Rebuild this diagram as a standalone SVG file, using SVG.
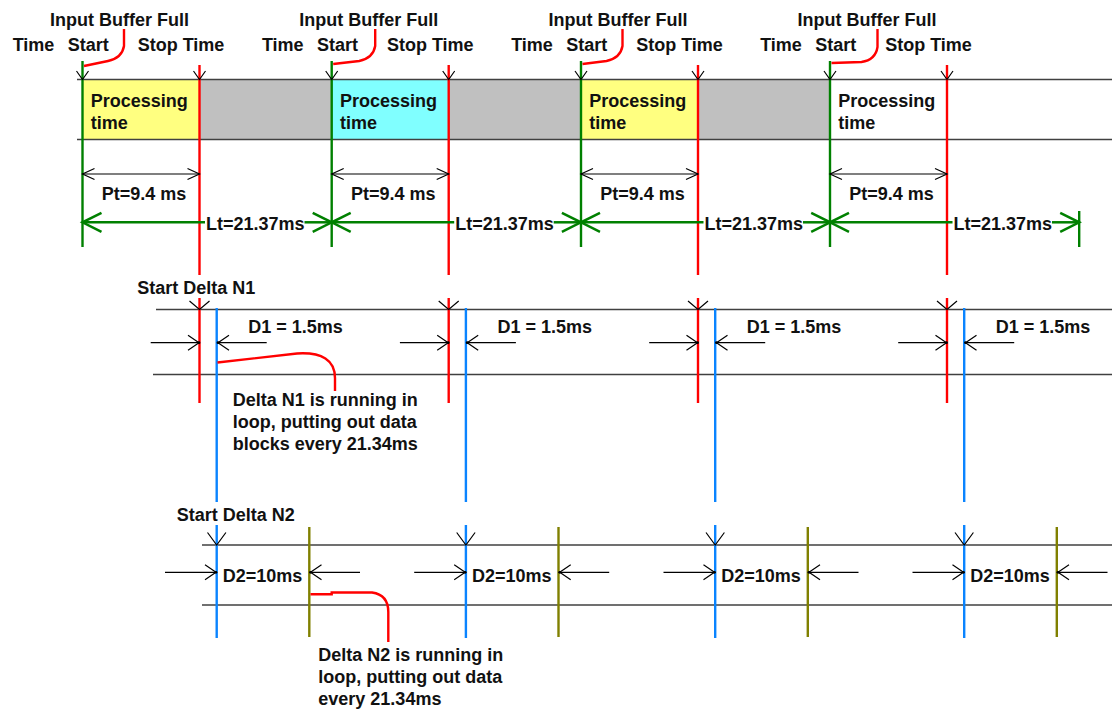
<svg xmlns="http://www.w3.org/2000/svg" width="1112" height="710" viewBox="0 0 1112 710">
<style>
text{font-family:"Liberation Sans",Arial,sans-serif;font-size:18px;font-weight:bold;fill:#111}
.band{stroke:#404040;stroke-width:1.3;fill:none}
.g{stroke:#008000;stroke-width:2.4;fill:none}
.r{stroke:#ff0000;stroke-width:2.4;fill:none}
.b{stroke:#0a84ff;stroke-width:2.4;fill:none}
.o{stroke:#808000;stroke-width:2.4;fill:none}
.k{stroke:#000;stroke-width:1.2;fill:none}
.lt{stroke:#008000;stroke-width:2.5;fill:none}
.pt{stroke:#000;stroke-width:1.2;fill:none;marker-start:url(#aPt);marker-end:url(#aPt)}
.dm{stroke:#000;stroke-width:1.2;fill:none;marker-end:url(#aD)}
</style>
<defs>
<marker id="aPt" viewBox="-16 -10 20 20" refX="0" refY="0" markerWidth="20" markerHeight="20" markerUnits="userSpaceOnUse" orient="auto-start-reverse" overflow="visible"><path d="M-12,-5.5 L0,0 L-12,5.5" fill="none" stroke="#000" stroke-width="1.2"/></marker>
<marker id="aLt" viewBox="-22 -12 26 24" refX="0" refY="0" markerWidth="26" markerHeight="24" markerUnits="userSpaceOnUse" orient="auto-start-reverse" overflow="visible"><path d="M-19,-9.5 L0,0 L-19,9.5" fill="none" stroke="#008000" stroke-width="2.5"/></marker>
<marker id="aD" viewBox="-16 -10 20 20" refX="0" refY="0" markerWidth="20" markerHeight="20" markerUnits="userSpaceOnUse" orient="auto" overflow="visible"><path d="M-11,-7.5 L0,0 L-11,7.5" fill="none" stroke="#000" stroke-width="1.2"/><circle cx="0" cy="0" r="1.4" fill="#000"/></marker>
</defs>

<g id="band-fills">
<rect x="82.5" y="80" width="117" height="59" fill="#ffff80"/>
<rect x="199.5" y="80" width="132.2" height="59" fill="#c0c0c0"/>
<rect x="331.7" y="80" width="117" height="59" fill="#80ffff"/>
<rect x="448.7" y="80" width="132.3" height="59" fill="#c0c0c0"/>
<rect x="581" y="80" width="117" height="59" fill="#ffff80"/>
<rect x="698" y="80" width="132" height="59" fill="#c0c0c0"/>
</g>
<g id="rails">
<line class="band" x1="77" y1="79.5" x2="1112" y2="79.5"/>
<line class="band" x1="77" y1="139.5" x2="1112" y2="139.5"/>
<line class="band" x1="156" y1="309.5" x2="1112" y2="309.5"/>
<line class="band" x1="153" y1="374.5" x2="1112" y2="374.5"/>
<line class="band" x1="202" y1="545" x2="1112" y2="545"/>
<line class="band" x1="202" y1="605" x2="1112" y2="605"/>
</g>

<g id="labels">
<text x="137.3" y="294">Start Delta N1</text>
<text x="176.7" y="520.7">Start Delta N2</text>
</g>

<g id="period-1">
<text x="50" y="26">Input Buffer Full</text>
<text x="12.7" y="50.5">Time</text>
<text x="67.7" y="50.5">Start</text>
<text x="137.7" y="50.5">Stop Time</text>
<text x="90.7" y="107">Processing</text>
<text x="90.7" y="129">time</text>
<text x="101.7" y="200">Pt=9.4 ms</text>
<text x="206" y="230">Lt=21.37ms</text>
<text x="248.3" y="332.7">D1 = 1.5ms</text>
<text x="222.7" y="582">D2=10ms</text>
</g>
<g id="period-2" transform="translate(249.2,0)">
<text x="50" y="26">Input Buffer Full</text>
<text x="12.7" y="50.5">Time</text>
<text x="67.7" y="50.5">Start</text>
<text x="137.7" y="50.5">Stop Time</text>
<text x="90.7" y="107">Processing</text>
<text x="90.7" y="129">time</text>
<text x="101.7" y="200">Pt=9.4 ms</text>
<text x="206" y="230">Lt=21.37ms</text>
<text x="248.3" y="332.7">D1 = 1.5ms</text>
<text x="222.7" y="582">D2=10ms</text>
</g>
<g id="period-3" transform="translate(498.5,0)">
<text x="50" y="26">Input Buffer Full</text>
<text x="12.7" y="50.5">Time</text>
<text x="67.7" y="50.5">Start</text>
<text x="137.7" y="50.5">Stop Time</text>
<text x="90.7" y="107">Processing</text>
<text x="90.7" y="129">time</text>
<text x="101.7" y="200">Pt=9.4 ms</text>
<text x="206" y="230">Lt=21.37ms</text>
<text x="248.3" y="332.7">D1 = 1.5ms</text>
<text x="222.7" y="582">D2=10ms</text>
</g>
<g id="period-4" transform="translate(747.5,0)">
<text x="50" y="26">Input Buffer Full</text>
<text x="12.7" y="50.5">Time</text>
<text x="67.7" y="50.5">Start</text>
<text x="137.7" y="50.5">Stop Time</text>
<text x="90.7" y="107">Processing</text>
<text x="90.7" y="129">time</text>
<text x="101.7" y="200">Pt=9.4 ms</text>
<text x="206" y="230">Lt=21.37ms</text>
<text x="248.3" y="332.7">D1 = 1.5ms</text>
<text x="222.7" y="582">D2=10ms</text>
</g>

<g id="notes">
<text x="232.7" y="406">Delta N1 is running in</text>
<text x="232.7" y="428">loop, putting out data</text>
<text x="232.7" y="450">blocks every 21.34ms</text>
<text x="318.3" y="661">Delta N2 is running in</text>
<text x="318.3" y="683">loop, putting out data</text>
<text x="318.3" y="705">every 21.34ms</text>
</g>

<g id="connectors">
<g id="conn-1">
<path class="r" d="M124,29 L124,46 Q122,58 108,61 L84,66"/>
<line class="g" x1="82.5" y1="61" x2="82.5" y2="247"/>
<line class="r" x1="199.5" y1="65" x2="199.5" y2="275"/>
<path class="k" d="M76.5,71 L82.5,79.5 L88.5,71 M193.5,71 L199.5,79.5 L205.5,71"/>
<line class="pt" x1="82.5" y1="174" x2="199.5" y2="174"/>
<path class="lt" d="M82.5,222.3 L205,222.3" marker-start="url(#aLt)"/>
<path class="lt" d="M304.5,222.3 L331.7,222.3" marker-end="url(#aLt)"/>
<line class="r" x1="199.5" y1="298" x2="199.5" y2="403"/>
<line class="b" x1="216.7" y1="308" x2="216.7" y2="502"/>
<path class="k" d="M189.5,301 L199.5,309.5 L209.5,301"/>
<line class="dm" x1="150.7" y1="342.7" x2="199" y2="342.7"/>
<line class="dm" x1="266.7" y1="342.7" x2="218" y2="342.7"/>
<line class="b" x1="216.7" y1="525" x2="216.7" y2="638"/>
<line class="o" x1="309.3" y1="527" x2="309.3" y2="637"/>
<path class="k" d="M207.5,532.5 L216.7,545 L225.9,532.5"/>
<line class="dm" x1="165" y1="572.3" x2="216" y2="572.3"/>
<line class="dm" x1="360" y1="572.3" x2="310.5" y2="572.3"/>
</g>
<g id="conn-2" transform="translate(249.2,0)">
<path class="r" d="M126,29 L126,46 Q124,58 110,61 L84,64"/>
<line class="g" x1="82.5" y1="61" x2="82.5" y2="247"/>
<line class="r" x1="199.5" y1="65" x2="199.5" y2="275"/>
<path class="k" d="M76.5,71 L82.5,79.5 L88.5,71 M193.5,71 L199.5,79.5 L205.5,71"/>
<line class="pt" x1="82.5" y1="174" x2="199.5" y2="174"/>
<path class="lt" d="M82.5,222.3 L205,222.3" marker-start="url(#aLt)"/>
<path class="lt" d="M304.5,222.3 L331.7,222.3" marker-end="url(#aLt)"/>
<line class="r" x1="199.5" y1="298" x2="199.5" y2="403"/>
<line class="b" x1="216.7" y1="308" x2="216.7" y2="502"/>
<path class="k" d="M189.5,301 L199.5,309.5 L209.5,301"/>
<line class="dm" x1="150.7" y1="342.7" x2="199" y2="342.7"/>
<line class="dm" x1="266.7" y1="342.7" x2="218" y2="342.7"/>
<line class="b" x1="216.7" y1="525" x2="216.7" y2="638"/>
<line class="o" x1="309.3" y1="527" x2="309.3" y2="637"/>
<path class="k" d="M207.5,532.5 L216.7,545 L225.9,532.5"/>
<line class="dm" x1="165" y1="572.3" x2="216" y2="572.3"/>
<line class="dm" x1="360" y1="572.3" x2="310.5" y2="572.3"/>
</g>
<g id="conn-3" transform="translate(498.5,0)">
<path class="r" d="M124,29 L124,46 Q122,58 108,61 L84,64"/>
<line class="g" x1="82.5" y1="61" x2="82.5" y2="247"/>
<line class="r" x1="199.5" y1="65" x2="199.5" y2="275"/>
<path class="k" d="M76.5,71 L82.5,79.5 L88.5,71 M193.5,71 L199.5,79.5 L205.5,71"/>
<line class="pt" x1="82.5" y1="174" x2="199.5" y2="174"/>
<path class="lt" d="M82.5,222.3 L205,222.3" marker-start="url(#aLt)"/>
<path class="lt" d="M304.5,222.3 L331.7,222.3" marker-end="url(#aLt)"/>
<line class="r" x1="199.5" y1="298" x2="199.5" y2="403"/>
<line class="b" x1="216.7" y1="308" x2="216.7" y2="502"/>
<path class="k" d="M189.5,301 L199.5,309.5 L209.5,301"/>
<line class="dm" x1="150.7" y1="342.7" x2="199" y2="342.7"/>
<line class="dm" x1="266.7" y1="342.7" x2="218" y2="342.7"/>
<line class="b" x1="216.7" y1="525" x2="216.7" y2="638"/>
<line class="o" x1="309.3" y1="527" x2="309.3" y2="637"/>
<path class="k" d="M207.5,532.5 L216.7,545 L225.9,532.5"/>
<line class="dm" x1="165" y1="572.3" x2="216" y2="572.3"/>
<line class="dm" x1="360" y1="572.3" x2="310.5" y2="572.3"/>
</g>
<g id="conn-4" transform="translate(747.5,0)">
<path class="r" d="M130,29 L130,47 Q128,60 114,62 L84,63"/>
<line class="g" x1="82.5" y1="61" x2="82.5" y2="247"/>
<line class="r" x1="199.5" y1="65" x2="199.5" y2="275"/>
<path class="k" d="M76.5,71 L82.5,79.5 L88.5,71 M193.5,71 L199.5,79.5 L205.5,71"/>
<line class="pt" x1="82.5" y1="174" x2="199.5" y2="174"/>
<path class="lt" d="M82.5,222.3 L205,222.3" marker-start="url(#aLt)"/>
<path class="lt" d="M304.5,222.3 L331.7,222.3" marker-end="url(#aLt)"/>
<line class="g" x1="331.7" y1="211" x2="331.7" y2="247"/>
<line class="r" x1="199.5" y1="298" x2="199.5" y2="403"/>
<line class="b" x1="216.7" y1="308" x2="216.7" y2="502"/>
<path class="k" d="M189.5,301 L199.5,309.5 L209.5,301"/>
<line class="dm" x1="150.7" y1="342.7" x2="199" y2="342.7"/>
<line class="dm" x1="266.7" y1="342.7" x2="218" y2="342.7"/>
<line class="b" x1="216.7" y1="525" x2="216.7" y2="638"/>
<line class="o" x1="309.3" y1="527" x2="309.3" y2="637"/>
<path class="k" d="M207.5,532.5 L216.7,545 L225.9,532.5"/>
<line class="dm" x1="165" y1="572.3" x2="216" y2="572.3"/>
<line class="dm" x1="360" y1="572.3" x2="310.5" y2="572.3"/>
</g>
<path id="note-n1-link" class="r" d="M217.5,362.5 L297,353.5 C322,352 335,360 335,378 L335,391"/>
<path id="note-n2-link" class="r" d="M310.5,594.3 L331.7,594.3 L331.7,592.5 L372,592.5 C383,594 388.3,600 388.3,612 L388.3,642"/>
</g>
</svg>
